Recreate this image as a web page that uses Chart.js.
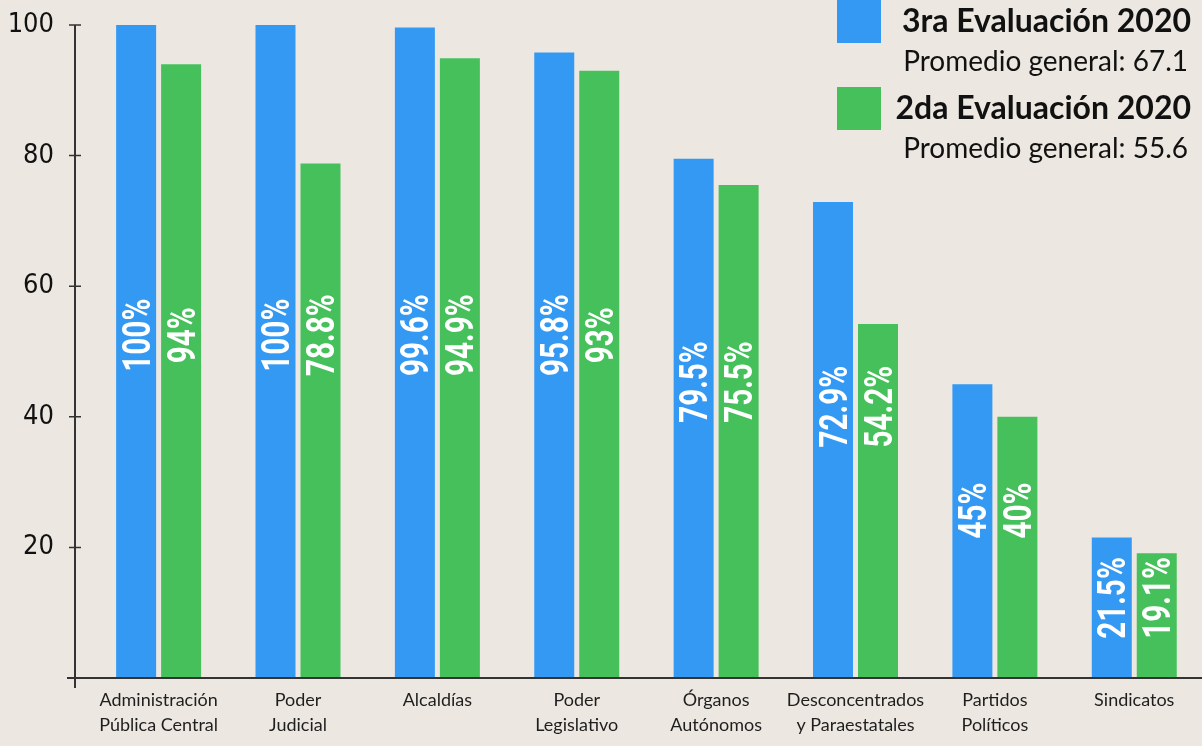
<!DOCTYPE html>
<html lang="es">
<head>
<meta charset="utf-8">
<title>Evaluación 2020</title>
<script src="https://cdn.jsdelivr.net/npm/chart.js@4.4.1/dist/chart.umd.min.js"></script>
<style>
  html, body { margin: 0; padding: 0; background: #ece8e1; }
  #wrap { width: 1202px; height: 746px; }
</style>
</head>
<body>
<div id="wrap"><canvas id="grafica" width="1202" height="746"></canvas></div>
<script>
// ---- datos ----
const categorias = [
    ['Administración', 'Pública Central'],
    ['Poder', 'Judicial'],
    'Alcaldías',
    ['Poder', 'Legislativo'],
    ['Órganos', 'Autónomos'],
    ['Desconcentrados', 'y Paraestatales'],
    ['Partidos', 'Políticos'],
    'Sindicatos'
];
const tercera = [100, 100, 99.6, 95.8, 79.5, 72.9, 45, 21.5];
const segunda = [94, 78.8, 94.9, 93, 75.5, 54.2, 40, 19.1];
const series = ['3ra Evaluación 2020', '2da Evaluación 2020'];
const promedios = [67.1, 55.6];
const ticksY = [20, 40, 60, 80, 100];

const AZUL = '#3399f3';
const VERDE = '#45c05a';
const TINTA = '#333333';

// ejes dibujados a mano (la línea vertical cruza por debajo del eje x)
const ejes = {
    id: 'ejes',
    afterDatasetsDraw(chart) {
        const { ctx, chartArea: a, scales: { y } } = chart;
        ctx.save();
        ctx.strokeStyle = TINTA;
        ctx.lineWidth = 2;
        ctx.beginPath();
        ctx.moveTo(a.left, y.getPixelForValue(ticksY[ticksY.length - 1]));
        ctx.lineTo(a.left, a.bottom + 10);
        ctx.moveTo(a.left - 8, a.bottom);
        ctx.lineTo(chart.width, a.bottom);
        ctx.stroke();
        ctx.lineWidth = 1.5;
        ctx.beginPath();
        ticksY.forEach(t => {
            const py = y.getPixelForValue(t);
            ctx.moveTo(a.left - 6, py);
            ctx.lineTo(a.left + 6, py);
        });
        ctx.stroke();
        ctx.restore();
    }
};

// etiquetas verticales dentro de cada barra
const etiquetas = {
    id: 'etiquetas',
    afterDatasetsDraw(chart) {
        const { ctx, scales: { y } } = chart;
        const sets = chart.data.datasets;
        ctx.save();
        ctx.fillStyle = '#ffffff';
        ctx.font = 'bold 38px Roboto, "DejaVu Sans", sans-serif';
        ctx.textAlign = 'center';
        ctx.textBaseline = 'alphabetic';
        sets.forEach((ds, d) => {
            chart.getDatasetMeta(d).data.forEach((bar, i) => {
                const v = ds.data[i].y;
                const mayor = Math.max(...sets.map(s => s.data[i].y));
                const centro = y.getPixelForValue(Math.min(52.5, mayor * 0.57));
                ctx.save();
                ctx.translate(bar.x, centro);
                ctx.rotate(-Math.PI / 2);
                ctx.scale(0.78, 1);
                ctx.fillText(v + '%', 0, 13.5);
                ctx.restore();
            });
        });
        ctx.restore();
    }
};

// leyenda arriba a la derecha con el promedio de cada evaluación
const leyenda = {
    id: 'leyenda',
    afterDraw(chart) {
        const ctx = chart.ctx;
        const derecha = chart.width - 11;
        ctx.save();
        ctx.textAlign = 'right';
        ctx.textBaseline = 'alphabetic';
        chart.data.datasets.forEach((ds, k) => {
            const top = k * 87;
            ctx.fillStyle = ds.backgroundColor;
            ctx.fillRect(837, top, 44, 43);
            ctx.fillStyle = '#111111';
            ctx.font = 'bold 32px Lato, sans-serif';
            ctx.fillText(ds.label, derecha, top + 32);
            ctx.font = '28px Lato, sans-serif';
            ctx.fillText('Promedio general: ' + promedios[k], derecha - 3, top + 71);
        });
        ctx.restore();
    }
};

new Chart(document.getElementById('grafica'), {
    type: 'bar',
    data: {
        datasets: [
            { label: series[0], data: tercera.map((v, i) => ({ x: i, y: v })), backgroundColor: AZUL },
            { label: series[1], data: segunda.map((v, i) => ({ x: i, y: v })), backgroundColor: VERDE }
        ]
    },
    options: {
        responsive: false,
        animation: false,
        devicePixelRatio: 1,
        categoryPercentage: 0.6456,
        barPercentage: 0.889,
        layout: { padding: { top: 25, left: 0, right: 0, bottom: 0 } },
        plugins: { legend: { display: false }, tooltip: { enabled: false } },
        scales: {
            x: {
                type: 'linear',
                offset: false,
                min: -0.6,
                max: 7.486,
                grid: { display: false, drawTicks: false },
                border: { display: false },
                afterBuildTicks: scale => { scale.ticks = categorias.map((c, i) => ({ value: i })); },
                afterFit: scale => {
                    scale.height = 68;
                    scale.paddingLeft = 0;
                    scale.paddingRight = 0;
                },
                ticks: {
                    autoSkip: false,
                    maxRotation: 0,
                    minRotation: 0,
                    padding: 10,
                    color: '#1e1e1e',
                    font: { family: 'Lato, sans-serif', size: 18, lineHeight: 1.39 },
                    callback: value => categorias[value]
                }
            },
            y: {
                min: 0,
                max: 100,
                grid: { display: false, drawTicks: false },
                border: { display: false },
                afterBuildTicks: scale => { scale.ticks = ticksY.map(v => ({ value: v })); },
                afterFit: scale => {
                    scale.width = 75;
                    scale.paddingTop = 0;
                    scale.paddingBottom = 0;
                },
                ticks: {
                    padding: 21,
                    color: '#111111',
                    font: { family: '"Liberation Sans Narrow", "DejaVu Sans Condensed", sans-serif', size: 27 }
                }
            }
        }
    },
    plugins: [ejes, etiquetas, leyenda]
});
</script>
</body>
</html>
